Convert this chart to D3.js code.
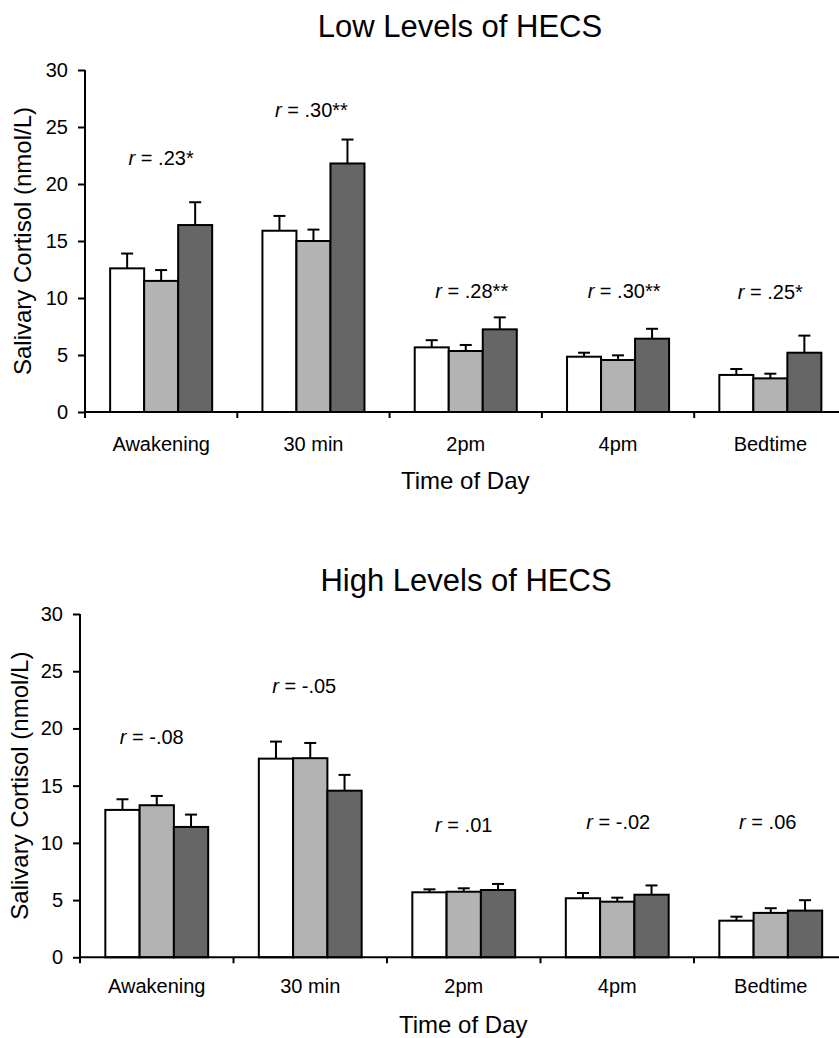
<!DOCTYPE html>
<html>
<head>
<meta charset="utf-8">
<script src="https://cdn.jsdelivr.net/npm/d3@7"></script>
<style>
  html, body { margin: 0; padding: 0; background: #fff; }
  svg { display: block; font-family: "Liberation Sans", Arial, Helvetica, sans-serif; }
</style>
</head>
<body>
<svg id="chart" width="839" height="1038"></svg>
<script>
// ---------- data ----------
const categories = ["Awakening", "30 min", "2pm", "4pm", "Bedtime"];
const seriesNames = ["Group 1", "Group 2", "Group 3"];
const seriesColors = ["#ffffff", "#b3b3b3", "#666666"];
const yTicks = [0, 5, 10, 15, 20, 25, 30];

// Low levels of HECS
const lowMeans1 = [12.6, 15.9, 5.67, 4.85, 3.25];
const lowMeans2 = [11.5, 15.0, 5.35, 4.56, 2.95];
const lowMeans3 = [16.4, 21.8, 7.25, 6.43, 5.2];
const lowSE1 = [1.3, 1.3, 0.63, 0.35, 0.52];
const lowSE2 = [0.95, 1.0, 0.53, 0.41, 0.41];
const lowSE3 = [2.0, 2.1, 1.05, 0.87, 1.5];
const lowR = [".23*", ".30**", ".28**", ".30**", ".25*"];
const lowRY = [21.7, 25.85, 9.97, 9.97, 9.89];

// High levels of HECS
const highMeans1 = [12.88, 17.36, 5.68, 5.16, 3.2];
const highMeans2 = [13.29, 17.4, 5.73, 4.86, 3.88];
const highMeans3 = [11.39, 14.56, 5.88, 5.47, 4.08];
const highSE1 = [0.93, 1.49, 0.26, 0.46, 0.35];
const highSE2 = [0.81, 1.33, 0.3, 0.35, 0.41];
const highSE3 = [1.08, 1.38, 0.53, 0.81, 0.91];
const highR = ["-.08", "-.05", ".01", "-.02", ".06"];
const highRY = [18.6, 23.13, 10.98, 11.19, 11.19];

// ---------- drawing ----------
const svg = d3.select("#chart");
svg.append("rect").attr("width", 839).attr("height", 1038).attr("fill", "#fff");

function panel(cfg) {
  const g = svg.append("g");
  const y = d3.scaleLinear().domain([0, 30]).range([cfg.y0, cfg.y30]);
  const x0 = d3.scaleBand().domain(categories).range([cfg.xl, cfg.xr])
    .paddingInner(0.33).paddingOuter(0.165);
  const x1 = d3.scaleBand().domain(seriesNames).range([0, x0.bandwidth()]);

  const rows = [];
  categories.forEach((c, i) => {
    seriesNames.forEach((s, j) => {
      rows.push({cat: c, ser: s, j: j, mean: cfg.means[j][i], se: cfg.se[j][i]});
    });
  });

  // title
  g.append("text").attr("x", cfg.titleX).attr("y", cfg.titleY)
    .attr("text-anchor", "middle").attr("font-size", 31).attr("fill", "#000")
    .text(cfg.title);

  // y axis
  const yAxis = d3.axisLeft(y).tickValues(yTicks).tickSize(7).tickSizeOuter(0).tickPadding(10);
  const ya = g.append("g").attr("transform", `translate(${cfg.xl},0)`).call(yAxis);
  ya.select(".domain").attr("stroke", "#000").attr("stroke-width", 2)
    .attr("d", `M0,${y(30)}V${y(0) + 1}`);
  ya.selectAll(".tick line").attr("stroke", "#000").attr("stroke-width", 2);
  ya.selectAll(".tick text").attr("font-size", 20).attr("fill", "#000")
    .attr("font-family", "Liberation Sans, Arial, sans-serif");

  // bars
  g.selectAll("rect.bar").data(rows).join("rect").attr("class", "bar")
    .attr("x", d => x0(d.cat) + x1(d.ser))
    .attr("y", d => y(d.mean))
    .attr("width", x1.bandwidth())
    .attr("height", d => y(0) - y(d.mean))
    .attr("fill", d => seriesColors[d.j])
    .attr("stroke", "#000").attr("stroke-width", 2);

  // error bars
  const eg = g.selectAll("g.err").data(rows).join("g").attr("class", "err")
    .attr("stroke", "#000").attr("stroke-width", 2);
  eg.append("line")
    .attr("x1", d => x0(d.cat) + x1(d.ser) + x1.bandwidth() / 2)
    .attr("x2", d => x0(d.cat) + x1(d.ser) + x1.bandwidth() / 2)
    .attr("y1", d => y(d.mean))
    .attr("y2", d => y(d.mean + d.se));
  eg.append("line")
    .attr("x1", d => x0(d.cat) + x1(d.ser) + x1.bandwidth() / 2 - 6)
    .attr("x2", d => x0(d.cat) + x1(d.ser) + x1.bandwidth() / 2 + 6)
    .attr("y1", d => y(d.mean + d.se))
    .attr("y2", d => y(d.mean + d.se));

  // x axis line + category boundary ticks
  g.append("line").attr("x1", cfg.xl).attr("x2", cfg.xr)
    .attr("y1", y(0)).attr("y2", y(0)).attr("stroke", "#000").attr("stroke-width", 2);
  const bounds = d3.range(categories.length + 1).map(i => cfg.xl + i * x0.step());
  g.selectAll("line.xt").data(bounds).join("line").attr("class", "xt")
    .attr("x1", d => d).attr("x2", d => d)
    .attr("y1", y(0)).attr("y2", y(0) + 6)
    .attr("stroke", "#000").attr("stroke-width", 2);

  // category labels
  g.selectAll("text.cat").data(categories).join("text").attr("class", "cat")
    .attr("x", d => x0(d) + x0.bandwidth() / 2)
    .attr("y", y(0) + cfg.catDy)
    .attr("text-anchor", "middle").attr("font-size", 20).attr("fill", "#000")
    .text(d => d);

  // x title
  g.append("text").attr("x", (cfg.xl + cfg.xr) / 2 - 0.5).attr("y", y(0) + cfg.xTitleDy)
    .attr("text-anchor", "middle").attr("font-size", 24).attr("fill", "#000")
    .text("Time of Day");

  // y title
  g.append("text")
    .attr("transform", `translate(${cfg.yTitleX},${(y(0) + y(30)) / 2}) rotate(-90)`)
    .attr("text-anchor", "middle").attr("font-size", 24).attr("fill", "#000")
    .text("Salivary Cortisol (nmol/L)");

  // correlation annotations
  const ann = g.selectAll("text.r").data(categories).join("text").attr("class", "r")
    .attr("x", (d, i) => x0(d) + x0.bandwidth() / 2 + cfg.rDx[i])
    .attr("y", (d, i) => y(cfg.rY[i]))
    .attr("text-anchor", "middle").attr("font-size", 20).attr("fill", "#000");
  ann.append("tspan").attr("font-style", "italic").text("r");
  ann.append("tspan").text((d, i) => " = " + cfg.r[i]);
}

panel({
  title: "Low Levels of HECS", titleX: 460, titleY: 37,
  y0: 412, y30: 70, xl: 85, xr: 846.5,
  means: [lowMeans1, lowMeans2, lowMeans3], se: [lowSE1, lowSE2, lowSE3],
  r: lowR, rY: lowRY, rDx: [0, -2, 6, 6, 0],
  catDy: 39, xTitleDy: 77, yTitleX: 31
});

panel({
  title: "High Levels of HECS", titleX: 466, titleY: 591,
  y0: 957.3, y30: 614, xl: 80, xr: 847.5,
  means: [highMeans1, highMeans2, highMeans3], se: [highSE1, highSE2, highSE3],
  r: highR, rY: highRY, rDx: [-5, -6, 0, 1, -3],
  catDy: 36, xTitleDy: 76, yTitleX: 28
});
</script>
</body>
</html>
